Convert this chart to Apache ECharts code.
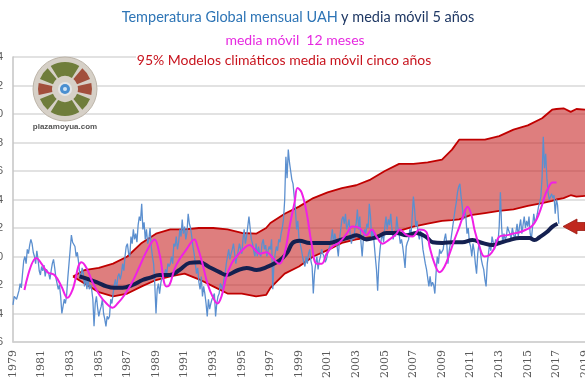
<!DOCTYPE html>
<html>
<head>
<meta charset="utf-8">
<script src="https://cdn.jsdelivr.net/npm/echarts@6/dist/echarts.min.js"></script>
<style>
html,body{margin:0;padding:0;background:#fff;}
#chart{width:585px;height:390px;}
</style>
</head>
<body>
<div id="chart"></div>
<script>
// ---- DATA ----
const uahStartYear = 1979;
// UAH monthly anomalies (°C)
const uah1979_1988 = [
 -0.34,-0.28,-0.27,-0.30,-0.29,-0.24,-0.19,-0.22,-0.12,-0.03,0.00,-0.05,
 0.05,0.02,0.08,0.12,0.09,0.03,0.00,-0.05,0.04,-0.02,-0.10,-0.13,
 -0.07,-0.10,-0.06,-0.14,-0.09,-0.08,-0.12,-0.16,-0.10,-0.05,-0.02,-0.08,
 -0.15,-0.19,-0.23,-0.20,-0.28,-0.40,-0.35,-0.30,-0.33,-0.27,-0.15,-0.05,
 0.05,0.15,0.10,0.11,0.07,0.00,0.03,-0.04,-0.12,-0.16,-0.08,-0.12,
 -0.21,-0.14,-0.23,-0.16,-0.23,-0.20,-0.23,-0.30,-0.49,-0.33,-0.28,-0.36,
 -0.42,-0.38,-0.35,-0.30,-0.40,-0.44,-0.49,-0.42,-0.44,-0.42,-0.30,-0.33,
 -0.26,-0.20,-0.16,-0.23,-0.14,-0.12,-0.16,-0.12,-0.05,-0.10,0.00,0.07,
 0.09,0.02,0.00,0.14,0.09,0.19,0.12,0.16,0.10,0.22,0.28,0.25,
 0.37,0.19,0.24,0.12,0.19,0.09,0.12,0.20,0.07,0.00,-0.05,-0.20
];
const uah1989_1998 = [
 -0.40,-0.23,-0.19,-0.26,-0.19,-0.14,-0.12,-0.14,-0.09,-0.12,-0.05,-0.07,
 -0.05,0.00,-0.05,0.09,0.07,0.14,0.05,0.10,0.19,0.14,0.26,0.16,
 0.21,0.12,0.17,0.30,0.23,0.20,0.14,0.07,0.02,-0.05,-0.12,-0.08,
 -0.18,-0.23,-0.14,-0.28,-0.21,-0.26,-0.33,-0.42,-0.30,-0.37,-0.33,-0.30,
 -0.30,-0.26,-0.42,-0.33,-0.28,-0.26,-0.19,-0.21,-0.24,-0.16,-0.12,-0.05,
 0.00,0.05,-0.02,0.02,0.05,0.09,0.02,-0.05,0.00,0.04,0.09,0.05,
 0.02,0.12,0.19,0.09,0.14,0.21,0.28,0.20,0.12,0.09,0.04,0.00,
 0.09,0.00,0.07,0.02,0.00,0.09,0.12,0.05,0.08,0.00,0.04,0.07,
 0.05,0.12,-0.23,-0.05,0.02,0.07,0.04,0.12,0.10,0.16,0.20,0.26,
 0.40,0.70,0.55,0.75,0.66,0.60,0.54,0.51,0.42,0.33,0.19,0.25
];
const uah1999_2008 = [
 0.12,0.09,0.05,0.00,-0.04,-0.07,0.00,-0.05,0.02,0.05,-0.03,-0.07,
 -0.26,-0.12,-0.05,0.00,-0.09,-0.03,0.00,0.05,0.02,0.00,-0.04,-0.02,
 0.02,0.05,0.08,0.12,0.19,0.09,0.16,0.12,0.07,0.00,0.12,0.19,
 0.26,0.28,0.23,0.30,0.19,0.22,0.26,0.15,0.09,0.16,0.12,0.20,
 0.23,0.33,0.19,0.28,0.10,0.00,0.12,0.19,0.16,0.23,0.20,0.37,
 0.28,0.12,0.19,0.10,0.00,-0.09,-0.24,-0.05,0.05,0.12,0.16,0.10,
 0.21,0.28,0.19,0.26,0.22,0.30,0.19,0.12,0.17,0.14,0.28,0.20,
 0.16,0.09,0.12,0.07,0.00,-0.08,0.07,0.10,0.12,0.19,0.15,0.28,
 0.42,0.33,0.21,0.25,0.16,0.12,0.18,0.14,0.05,0.00,-0.05,-0.09,
 -0.09,-0.21,-0.14,-0.21,-0.18,-0.20,-0.26,-0.12,0.00,-0.05,0.05,0.02
];
const uah2009_2017 = [
 0.02,0.05,0.12,0.16,0.09,-0.05,0.04,0.09,0.15,0.21,0.27,0.33,
 0.38,0.45,0.49,0.51,0.42,0.35,0.26,0.33,0.28,0.16,0.20,0.10,
 0.07,0.00,0.09,0.04,-0.05,-0.12,0.02,0.09,0.05,-0.02,-0.06,-0.09,
 -0.16,-0.21,-0.05,0.02,0.09,0.04,0.14,0.10,0.05,0.12,0.08,0.10,
 0.21,0.45,0.21,0.09,0.16,0.12,0.14,0.21,0.18,0.16,0.12,0.20,
 0.21,0.12,0.17,0.23,0.14,0.21,0.26,0.16,0.22,0.28,0.20,0.25,
 0.21,0.28,0.16,0.12,0.21,0.30,0.24,0.26,0.30,0.35,0.38,0.42,
 0.56,0.84,0.62,0.72,0.55,0.45,0.40,0.42,0.44,0.41,0.43,0.30,
 0.40,0.36,0.23
];

// 12-month moving average (magenta)
const ma12Years = [1979.80,1980.64,1980.99,1981.41,1981.90,1982.39,1982.81,1983.16,1983.79,1984.14,1984.56,1985.05,1985.54,1985.96,1986.31,1986.80,1987.29,1987.85,1988.41,1988.90,1989.24,1989.73,1989.94,1990.29,1990.64,1991.13,1991.69,1991.90,1992.25,1992.60,1992.95,1993.30,1993.58,1993.93,1994.28,1994.63,1995.19,1995.55,1995.90,1996.24,1996.73,1997.08,1997.43,1997.64,1997.99,1998.34,1998.69,1998.90,1999.18,1999.53,1999.88,2000.24,2000.59,2000.93,2001.35,2001.84,2002.33,2002.74,2003.23,2003.72,2004.08,2004.42,2004.84,2005.33,2005.82,2006.03,2006.52,2006.94,2007.43,2007.92,2008.13,2008.48,2008.83,2009.18,2009.53,2009.88,2010.22,2010.57,2010.78,2011.06,2011.27,2011.62,2011.97,2012.32,2012.67,2013.02,2013.58,2013.93,2014.42,2014.91,2015.26,2015.61,2015.96,2016.17,2016.38,2016.73,2017.01];
const ma12Values = [-0.235,-0.01,-0.05,-0.11,-0.13,-0.21,-0.29,-0.235,-0.04,-0.08,-0.18,-0.27,-0.33,-0.36,-0.33,-0.27,-0.19,-0.07,0.05,0.12,0.02,-0.21,-0.20,-0.09,-0.02,0.05,0.12,0.07,-0.05,-0.19,-0.28,-0.33,-0.28,-0.14,-0.05,0.00,0.06,0.08,0.05,0.02,0.03,0.00,-0.04,-0.05,0.02,0.21,0.38,0.48,0.45,0.31,0.09,-0.05,-0.05,0.02,0.07,0.10,0.16,0.21,0.20,0.15,0.19,0.14,0.09,0.12,0.16,0.19,0.15,0.14,0.19,0.17,0.07,-0.05,-0.11,-0.07,0.02,0.12,0.21,0.31,0.35,0.29,0.19,0.07,0.00,0.01,0.06,0.14,0.15,0.16,0.17,0.19,0.21,0.26,0.35,0.42,0.47,0.52,0.52];

// 5-year moving average (navy)
const ma5Years = [1983.65,1984.84,1985.54,1986.10,1986.66,1987.36,1988.06,1988.55,1989.24,1989.94,1990.64,1991.34,1992.04,1992.74,1993.44,1993.93,1994.63,1995.34,1996.03,1996.73,1997.43,1997.85,1998.20,1998.55,1999.04,1999.74,2000.44,2001.14,2001.84,2002.54,2003.03,2003.72,2004.42,2005.12,2005.82,2006.52,2007.22,2007.92,2008.34,2009.04,2009.74,2010.43,2011.13,2011.83,2012.53,2013.02,2013.72,2014.42,2015.12,2015.47,2015.82,2016.31,2016.73,2017.08];
const ma5Values = [-0.14,-0.18,-0.21,-0.22,-0.22,-0.20,-0.165,-0.15,-0.13,-0.13,-0.095,-0.045,-0.04,-0.075,-0.11,-0.13,-0.10,-0.08,-0.095,-0.075,-0.04,-0.01,0.03,0.095,0.11,0.095,0.095,0.095,0.115,0.135,0.15,0.12,0.135,0.165,0.165,0.15,0.165,0.135,0.10,0.095,0.10,0.10,0.115,0.095,0.08,0.095,0.115,0.13,0.13,0.115,0.135,0.17,0.21,0.23];

// 95% climate models band (5-yr moving average)
const bandYears = [1983.2,1984,1985,1986,1987,1988,1989,1990,1991,1992,1993,1994,1995,1996,1996.7,1997,1998,1999,2000,2001,2002,2003,2004,2005,2006,2007,2008,2009,2009.7,2010.2,2011,2012,2013,2014,2015,2016,2016.7,2017,2017.5,2018,2018.4,2019];
const bandUpper = [-0.14,-0.095,-0.08,-0.05,0.00,0.095,0.16,0.19,0.19,0.20,0.20,0.19,0.165,0.16,0.20,0.235,0.30,0.35,0.41,0.45,0.48,0.50,0.54,0.60,0.65,0.65,0.66,0.68,0.75,0.82,0.82,0.82,0.845,0.89,0.92,0.97,1.03,1.035,1.04,1.015,1.035,1.03];
const bandLower = [-0.14,-0.19,-0.25,-0.28,-0.26,-0.21,-0.165,-0.14,-0.12,-0.16,-0.21,-0.26,-0.26,-0.28,-0.27,-0.22,-0.12,-0.07,0.00,0.045,0.095,0.12,0.135,0.16,0.18,0.21,0.23,0.25,0.255,0.26,0.29,0.305,0.32,0.33,0.355,0.375,0.39,0.40,0.41,0.43,0.42,0.425];

const yearLabelStep = 2;

// ---- BUILD ----
const uahAll = [].concat(uah1979_1988, uah1989_1998, uah1999_2008, uah2009_2017);
const uahData = uahAll.map((v, i) => [uahStartYear + i / 12, v]);
const ma12Data = ma12Years.map((y, i) => [y, ma12Values[i]]);
const ma5Data = ma5Years.map((y, i) => [y, ma5Values[i]]);
const lowerData = bandYears.map((y, i) => [y, bandLower[i]]);
const upperData = bandYears.map((y, i) => [y, bandUpper[i]]);

const green = '#6f7d3b', brown = '#a24f3c';
const cx = 65, cy = 89;
const deg = d => d * Math.PI / 180;
const logoSectors = [
  [-122,-58,green],[-50,-22,brown],[-13,13,brown],[22,50,green],
  [58,122,green],[130,158,green],[167,193,brown],[202,230,green]
].map(s => ({type:'sector', shape:{cx:cx, cy:cy, r0:13, r:27, startAngle:deg(s[0]), endAngle:deg(s[1])}, style:{fill:s[2]}, z:100}));

function renderBand(params, api) {
  const pts = [];
  for (let i = 0; i < bandYears.length; i++) pts.push(api.coord([bandYears[i], bandUpper[i]]));
  for (let i = bandYears.length - 1; i >= 0; i--) pts.push(api.coord([bandYears[i], bandLower[i]]));
  return {type:'polygon', shape:{points:pts}, style:{fill:'rgba(200,40,40,0.6)'}, silent:true};
}

const chart = echarts.init(document.getElementById('chart'), null, {renderer:'canvas'});
const option = {
  animation: false,
  backgroundColor: '#ffffff',
  grid: {left: 13, right: 0, top: 57, bottom: 48, containLabel: false, outerBoundsMode: 'none'},
  xAxis: {
    type: 'value', min: 1979, max: 2019, interval: 1,
    axisLine: {show: true, onZero: false, lineStyle: {color: '#d0d0d0', width: 1.5}},
    axisTick: {show: false},
    splitLine: {show: false},
    axisLabel: {
      rotate: 90, margin: 8, color: '#595959', fontFamily: 'DejaVu Serif', fontSize: 11,
      showMinLabel: true, showMaxLabel: true,
      formatter: v => { const y = Math.round(v); return ((y - 1979) % yearLabelStep === 0) ? String(y) : ''; }
    }
  },
  yAxis: {
    type: 'value', min: -0.6, max: 1.4, interval: 0.2,
    axisLine: {show: true, onZero: false, lineStyle: {color: '#c4c4c4', width: 1.5}},
    axisTick: {show: false},
    axisLabel: {show: true, margin: 10, color: '#595959', fontSize: 11, fontFamily: 'Liberation Sans',
      formatter: v => v.toFixed(1).replace('.', ',')},
    splitLine: {lineStyle: {color: '#d9d9d9', width: 1.5}}
  },
  series: [
    {type: 'custom', name: 'band', data: [[bandYears[0], bandLower[0]]], renderItem: renderBand, silent: true, clip: true},
    {type: 'line', name: 'lower', data: lowerData, symbol: 'none', silent: true,
     lineStyle: {color: '#c00000', width: 1.8}},
    {type: 'line', name: 'upper', data: upperData, symbol: 'none', silent: true,
     lineStyle: {color: '#c00000', width: 1.8}},
    {type: 'line', name: 'UAH', data: uahData, symbol: 'none', silent: true,
     lineStyle: {color: '#5b8fcf', width: 1.3}},
    {type: 'line', name: '5y', data: ma5Data, symbol: 'none', smooth: 0.4, silent: true,
     lineStyle: {color: '#142050', width: 4}},
    {type: 'line', name: '12m', data: ma12Data, symbol: 'none', smooth: 0.4, silent: true,
     lineStyle: {color: '#f020e6', width: 2}}
  ],
  graphic: [
    {type:'rect', shape:{x:136, y:50, width:449, height:15}, style:{fill:'#ffffff'}, z:90},
    {type:'text', z:95, style:{x:298, y:17, text:'{a|Temperatura Global mensual UAH} {b|y media móvil 5 años}',
      textAlign:'center', textVerticalAlign:'middle', align:'center', verticalAlign:'middle',
      rich:{a:{fill:'#2e75b6', color:'#2e75b6', fontSize:14.5, fontFamily:'Lato'}, b:{fill:'#1f3864', color:'#1f3864', fontSize:14.5, fontFamily:'Lato'}}}},
    {type:'text', z:95, style:{x:295, y:40, text:'media móvil  12 meses', fill:'#e629e0', font:'14px Lato',
      textAlign:'center', textVerticalAlign:'middle', align:'center', verticalAlign:'middle'}},
    {type:'text', z:95, style:{x:284, y:60, text:'95% Modelos climáticos media móvil cinco años', fill:'#c8141e', font:'14px Lato',
      textAlign:'center', textVerticalAlign:'middle', align:'center', verticalAlign:'middle'}},
    // logo
    {type:'circle', shape:{cx:cx, cy:cy, r:32}, style:{fill:'#d6d0c7', stroke:'#bcb4a8', lineWidth:1}, z:99},
    ...logoSectors,
    {type:'circle', shape:{cx:cx, cy:cy, r:7}, style:{fill:'#e6e6e6'}, z:101},
    {type:'circle', shape:{cx:cx, cy:cy, r:5}, style:{fill:'#4a8fd0'}, z:102},
    {type:'circle', shape:{cx:cx, cy:cy, r:2}, style:{fill:'#cfe3f5'}, z:103},
    {type:'text', z:100, style:{x:65, y:127, text:'plazamoyua.com', fill:'#555555', font:'bold 8px Liberation Sans',
      textAlign:'center', textVerticalAlign:'middle', align:'center', verticalAlign:'middle'}},
    // arrow
    {type:'polygon', z:100, shape:{points:[[563,226.5],[577,219],[577,222.5],[585,222.5],[585,230.5],[577,230.5],[577,234]]},
      style:{fill:'#c0281e', stroke:'#9a1a12', lineWidth:0.8}}
  ]
};
chart.setOption(option);
</script>
</body>
</html>
